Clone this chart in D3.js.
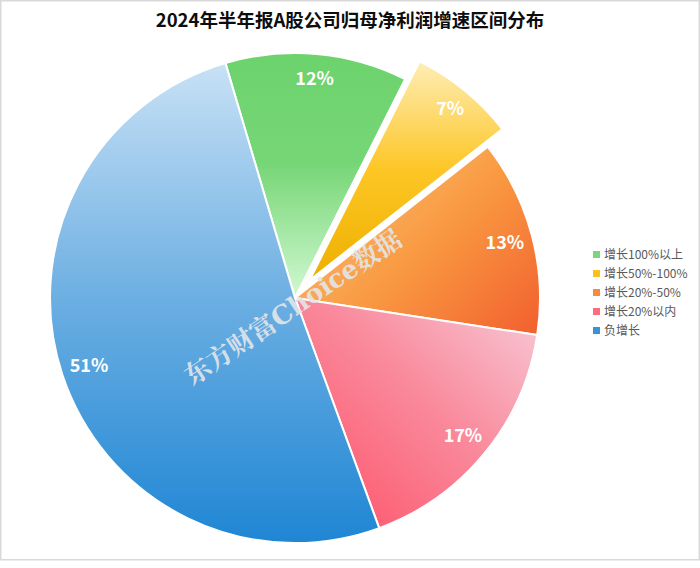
<!DOCTYPE html>
<html><head><meta charset="utf-8">
<script src="https://cdn.jsdelivr.net/npm/d3@7"></script>
<style>body{margin:0;background:#fff;}svg{display:block;}</style>
</head><body>
<svg id="chart" width="700" height="568"></svg>
<script>
const title = "2024年半年报A股公司归母净利润增速区间分布";
const categories = ["增长100%以上", "增长50%-100%", "增长20%-50%", "增长20%以内", "负增长"];
const values = [12, 7, 13, 17, 51];
const labels = ["12%", "7%", "13%", "17%", "51%"];
const legendColors = ["#7ad67a", "#fcc21b", "#f98b3c", "#ff6b80", "#3b91db"];
const watermark = "东方财富Choice数据";

const svg = d3.select("#chart");
svg.append("rect").attr("x",0.75).attr("y",0.75).attr("width",698.5).attr("height",559)
  .attr("fill","#fff").attr("stroke","#d9d9d9").attr("stroke-width",1.5);

svg.append("text").attr("x",350).attr("y",27).attr("text-anchor","middle")
  .attr("font-family","'Noto Sans CJK SC', sans-serif").attr("font-weight","bold")
  .attr("font-size",18.5).attr("fill","#0d0d0d").text(title);

const defs = svg.append("defs");
const grads = [
  {x1:0,y1:0,x2:0,y2:1,stops:[[0,"#6cd36c"],[0.45,"#76d676"],[1,"#d2f8d2"]]},
  {x1:0,y1:0,x2:0,y2:1,stops:[[0,"#feedb5"],[0.5,"#fdc625"],[1,"#edb000"]]},
  {x1:0,y1:0.15,x2:1,y2:0.95,stops:[[0,"#fcc47e"],[0.5,"#f99a42"],[1,"#f2622f"]]},
  {x1:0,y1:1,x2:1,y2:0,stops:[[0,"#ff4e64"],[0.55,"#f98a9c"],[1,"#f8cbd8"]]},
  {x1:0,y1:0,x2:0,y2:1,stops:[[0,"#c8e1f5"],[0.5,"#6aaee2"],[1,"#1f86d4"]]}
];
grads.forEach((g,i)=>{
  const lg = defs.append("linearGradient").attr("id","g"+i)
    .attr("x1",g.x1).attr("y1",g.y1).attr("x2",g.x2).attr("y2",g.y2);
  g.stops.forEach(s=>lg.append("stop").attr("offset",s[0]).attr("stop-color",s[1]));
});

const cx = 295, cy = 298, R = 245;
const startA = -16.5 * Math.PI/180;
const pie = d3.pie().sort(null).value(d=>d).startAngle(startA).endAngle(startA + 2*Math.PI);
const arcs = pie(values);
const arc = d3.arc().innerRadius(0).outerRadius(R);
const explode = [0, 23, 0, 0, 0];
const labelR = [220, 222, 217, 217, 217];
const g = svg.append("g").attr("transform",`translate(${cx},${cy})`);
arcs.forEach((a,i)=>{
  const mid = (a.startAngle + a.endAngle)/2;
  const ox = explode[i]*Math.sin(mid), oy = -explode[i]*Math.cos(mid);
  g.append("path").attr("d",arc(a)).attr("transform",`translate(${ox},${oy})`)
    .attr("fill",`url(#g${i})`).attr("stroke","#fff").attr("stroke-width",2)
    .attr("stroke-linejoin","round");
});
arcs.forEach((a,i)=>{
  const mid = (a.startAngle + a.endAngle)/2;
  const r = labelR[i] + explode[i];
  g.append("text").attr("x",r*Math.sin(mid)).attr("y",-r*Math.cos(mid)).attr("dy","0.35em")
    .attr("text-anchor","middle").attr("font-family","'Noto Sans CJK SC', sans-serif")
    .attr("font-weight","bold").attr("font-size",18).attr("fill","#fff").text(labels[i]);
});

// watermark
svg.append("text").attr("transform",`translate(298,315) rotate(-34)`)
  .attr("text-anchor","middle").attr("font-family","'DejaVu Serif', 'Noto Serif CJK SC', serif")
  .attr("font-weight","bold").attr("font-size",26)
  .attr("fill","#e3e5e8").attr("fill-opacity",0.92).text(watermark);

// legend
const lg = svg.append("g");
categories.forEach((c,i)=>{
  const y = 254.5 + i*19;
  lg.append("rect").attr("x",593).attr("y",y-3.5).attr("width",7).attr("height",7).attr("fill",legendColors[i]);
  lg.append("text").attr("x",604).attr("y",y).attr("dy","0.35em")
    .attr("font-family","'Noto Sans CJK SC', sans-serif").attr("font-size",12)
    .attr("fill","#595959").text(c);
});
</script>
</body></html>
